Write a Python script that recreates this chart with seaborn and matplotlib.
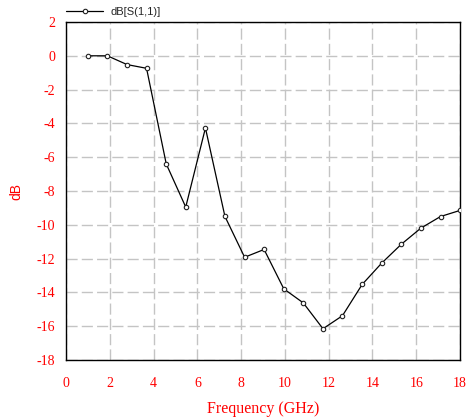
import matplotlib
matplotlib.use("Agg")
import matplotlib.pyplot as plt
import seaborn as sns
import pandas as pd

# S11 sweep
freq_ghz = [1.00, 1.89, 2.79, 3.68, 4.58, 5.47, 6.37, 7.26, 8.16, 9.05,
            9.95, 10.84, 11.74, 12.63, 13.53, 14.42, 15.32, 16.21, 17.11, 18.00]
s11_db = [0.0, 0.0, -0.52, -0.74, -6.4, -8.95, -4.27, -9.5, -11.92, -11.46,
          -13.79, -14.62, -16.15, -15.38, -13.53, -12.27, -11.15, -10.2, -9.51, -9.15]
series_label = "dB[S(1,1)]"
x_ticks = [0, 2, 4, 6, 8, 10, 12, 14, 16, 18]
y_ticks = [-18, -16, -14, -12, -10, -8, -6, -4, -2, 0, 2]

sns.set_style("white")
plt.rcParams["font.family"] = ["Liberation Serif", "DejaVu Serif"]
plt.rcParams["axes.unicode_minus"] = False

df = pd.DataFrame({"Frequency": freq_ghz, "dB": s11_db, "trace": series_label})

fig = plt.figure(figsize=(4.66, 4.19), dpi=100)
ax = fig.add_axes([66 / 466, 1 - 360 / 419, (460 - 66) / 466, (360 - 22) / 419])

sns.lineplot(data=df, x="Frequency", y="dB", hue="trace", palette=["black"],
             marker="o", markersize=3.2, markerfacecolor="white",
             markeredgecolor="#202020", markeredgewidth=0.8,
             linewidth=0.9, ax=ax, zorder=3)

ax.set_xlim(0, 18)
ax.set_ylim(-18, 2)
ax.set_xticks(x_ticks)
ax.set_yticks(y_ticks)
ax.grid(True, color="#c4c4c4", linewidth=1.0, linestyle=(0, (8, 3)))
ax.set_axisbelow(True)

for sp in ax.spines.values():
    sp.set_color("black")
    sp.set_linewidth(1.0)

ax.tick_params(axis="both", length=0, labelcolor="red", labelsize=10)
ax.tick_params(axis="x", pad=12)
ax.tick_params(axis="y", pad=8)

ax.set_xlabel("Frequency (GHz)", color="red", fontsize=11.5, labelpad=8)
ax.set_ylabel("dB", color="red", fontsize=10, labelpad=9,
              family=["Liberation Sans", "DejaVu Sans"])

ax.legend(loc="lower left", bbox_to_anchor=(-0.002, 1.012), frameon=False,
          handlelength=3.3, handletextpad=0.7, borderaxespad=0.0,
          borderpad=0.1, prop={"family": "Liberation Sans", "size": 8})

fig.savefig("out.png", dpi=100)
